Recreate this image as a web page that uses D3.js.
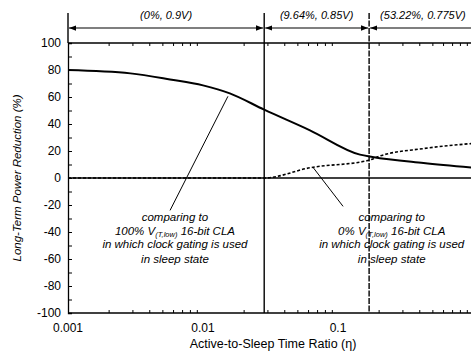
<!DOCTYPE html>
<html>
<head>
<meta charset="utf-8">
<script src="https://cdn.jsdelivr.net/npm/d3@7"></script>
<style>
  body { margin: 0; background: #fff; }
  svg { display: block; overflow: hidden; }
  text { font-family: "Liberation Sans", Arial, sans-serif; fill: #000; }
  .note { font-style: italic; font-size: 11.5px; }
  .rnote { font-style: italic; font-size: 11px; }
</style>
</head>
<body>
<svg width="471" height="360"></svg>
<script>
// comparing to 100% V(T,low) CLA (solid)
var etaFull = [0.001, 0.0029, 0.0057, 0.01, 0.0158, 0.0284, 0.062, 0.1455, 0.18, 0.43, 1];
var redFull = [80, 77.5, 73, 68.6, 62.7, 50.6, 35.3, 17.3, 15.6, 11.1, 7.6];
// comparing to 0% V(T,low) CLA (dotted)
var etaZero = [0.001, 0.0284, 0.062, 0.17, 0.2, 0.43, 1];
var redZero = [0, 0, 7.6, 13.2, 16, 21.8, 25.6];

// voltage regions
var regionEdges = [0.001, 0.0284, 0.17, 1];
var regionLabels = ["(0%, 0.9V)", "(9.64%, 0.85V)", "(53.22%, 0.775V)"];

var xTickLabels = [0.001, 0.01, 0.1];
var yTicks = d3.range(-100, 101, 10);

var svg = d3.select("svg"),
    margin = {top: 43, left: 68},
    plotH = 270,
    g = svg.append("g").attr("transform", "translate(" + margin.left + "," + margin.top + ")");

var x = d3.scaleLog().domain([0.001, 1]).range([0, 405]),
    y = d3.scaleLinear().domain([-100, 100]).range([plotH, 0]);

function pairs(xs, ys) { return xs.map(function(d, i) { return [d, ys[i]]; }); }

var line = d3.line()
    .curve(d3.curveMonotoneX)
    .x(function(d) { return x(d[0]); })
    .y(function(d) { return y(d[1]); });

// frame lines at 100, 0, -100
[100, 0, -100].forEach(function(v) {
  g.append("line")
      .attr("x1", 0).attr("x2", 420)
      .attr("y1", y(v)).attr("y2", y(v))
      .attr("stroke", "#000").attr("stroke-width", 1.3);
});

// y axis
var yAxis = d3.axisLeft(y)
    .tickValues(yTicks)
    .tickSize(-4)
    .tickPadding(7)
    .tickFormat(function(d) { return d % 20 === 0 ? d : ""; });
g.append("g")
    .call(yAxis)
    .call(function(s) {
      s.select(".domain").attr("stroke-width", 1.3);
      s.selectAll("text").style("font-size", "12px").attr("font-family", null);
    });

// log minor ticks on bottom and top
var minor = [];
[0.001, 0.01, 0.1].forEach(function(b) { for (var k = 2; k <= 9; k++) minor.push(b * k); });
g.append("g").attr("transform", "translate(0," + plotH + ")")
    .call(d3.axisBottom(x).tickValues(minor).tickSize(-3).tickFormat(""))
    .call(function(s) { s.select(".domain").remove(); });
g.append("g")
    .call(d3.axisTop(x).tickValues(minor).tickSize(-3).tickFormat(""))
    .call(function(s) { s.select(".domain").remove(); });

g.selectAll(".xlab")
  .data(xTickLabels)
  .enter().append("text")
    .attr("x", function(d) { return x(d); })
    .attr("y", plotH + 19)
    .attr("text-anchor", "middle")
    .style("font-size", "12px")
    .text(function(d) { return d; });

// region boundaries
var bounds = regionEdges.slice(1, 3);
g.selectAll(".vline")
  .data([0.001].concat(bounds))
  .enter().append("line")
    .attr("x1", function(d) { return x(d); })
    .attr("x2", function(d) { return x(d); })
    .attr("y1", -30)
    .attr("y2", function(d) { return d === 0.001 ? 0 : plotH; })
    .attr("stroke", "#000")
    .attr("stroke-width", 1.4)
    .attr("stroke-dasharray", function(d, i) { return i === 2 ? "6,1.5" : null; });

// arrows along the top
svg.append("defs").append("marker")
    .attr("id", "ah")
    .attr("viewBox", "0 0 8 6")
    .attr("refX", 8).attr("refY", 3)
    .attr("markerWidth", 6).attr("markerHeight", 4.5)
    .attr("orient", "auto-start-reverse")
  .append("path").attr("d", "M0,0L8,3L0,6Z").attr("fill", "#000");

for (var i = 0; i < 3; i++) {
  g.append("line")
      .attr("x1", x(regionEdges[i]) + 1)
      .attr("x2", x(regionEdges[i + 1]) - 1)
      .attr("y1", -15).attr("y2", -15)
      .attr("stroke", "#000").attr("stroke-width", 1.2)
      .attr("marker-start", "url(#ah)")
      .attr("marker-end", i < 2 ? "url(#ah)" : null);
}
g.selectAll(".rlab")
  .data(regionLabels)
  .enter().append("text")
    .attr("class", "rnote")
    .attr("x", function(d, i) {
      return i < 2 ? (x(regionEdges[i]) + x(regionEdges[i + 1])) / 2 : x(regionEdges[i]) + 11;
    })
    .attr("y", -24)
    .attr("text-anchor", function(d, i) { return i < 2 ? "middle" : "start"; })
    .text(function(d) { return d; });

// curves
g.append("path")
    .attr("d", line(pairs(etaZero, redZero)))
    .attr("fill", "none").attr("stroke", "#000")
    .attr("stroke-width", 1.6).attr("stroke-dasharray", "3,2");
g.append("path")
    .attr("d", line(pairs(etaFull, redFull)))
    .attr("fill", "none").attr("stroke", "#000")
    .attr("stroke-width", 2);

// leader lines
var leaders = [
  {from: [0.0153, 60.5], to: [0.0057, -24]},
  {from: [0.0653, 7.9], to: [0.109, -21]}
];
g.selectAll(".lead")
  .data(leaders)
  .enter().append("line")
    .attr("x1", function(d) { return x(d.from[0]); })
    .attr("y1", function(d) { return y(d.from[1]); })
    .attr("x2", function(d) { return x(d.to[0]); })
    .attr("y2", function(d) { return y(d.to[1]); })
    .attr("stroke", "#000").attr("stroke-width", 1);

// notes
var noteX = [0.0062, 0.25];
var noteY = [-29, -39.5, -49.2, -60.2];
var notePct = ["100% ", "0% "];
noteX.forEach(function(nx, k) {
  var t = g.append("text").attr("class", "note").attr("text-anchor", "middle");
  t.append("tspan").attr("x", x(nx)).attr("y", y(noteY[0])).attr("dy", "0.35em").text("comparing to");
  var l2 = t.append("tspan").attr("x", x(nx)).attr("y", y(noteY[1])).attr("dy", "0.35em");
  l2.append("tspan").text(notePct[k] + "V");
  l2.append("tspan").style("font-size", "7.5px").attr("dy", "1.5").text("(T,low)");
  l2.append("tspan").attr("dy", "-1.5").text(" 16-bit CLA");
  t.append("tspan").attr("x", x(nx)).attr("y", y(noteY[2])).attr("dy", "0.35em").text("in which clock gating is used");
  t.append("tspan").attr("x", x(nx)).attr("y", y(noteY[3])).attr("dy", "0.35em").text("in sleep state");
});

// axis titles
svg.append("text")
    .attr("transform", "translate(21,178) rotate(-90)")
    .attr("text-anchor", "middle")
    .style("font-size", "11.5px").style("font-style", "italic")
    .text("Long-Term Power Reduction (%)");
svg.append("text")
    .attr("x", 273).attr("y", 348)
    .attr("text-anchor", "middle")
    .style("font-size", "12.5px")
    .text("Active-to-Sleep Time Ratio (\u03b7)");
</script>
</body>
</html>
